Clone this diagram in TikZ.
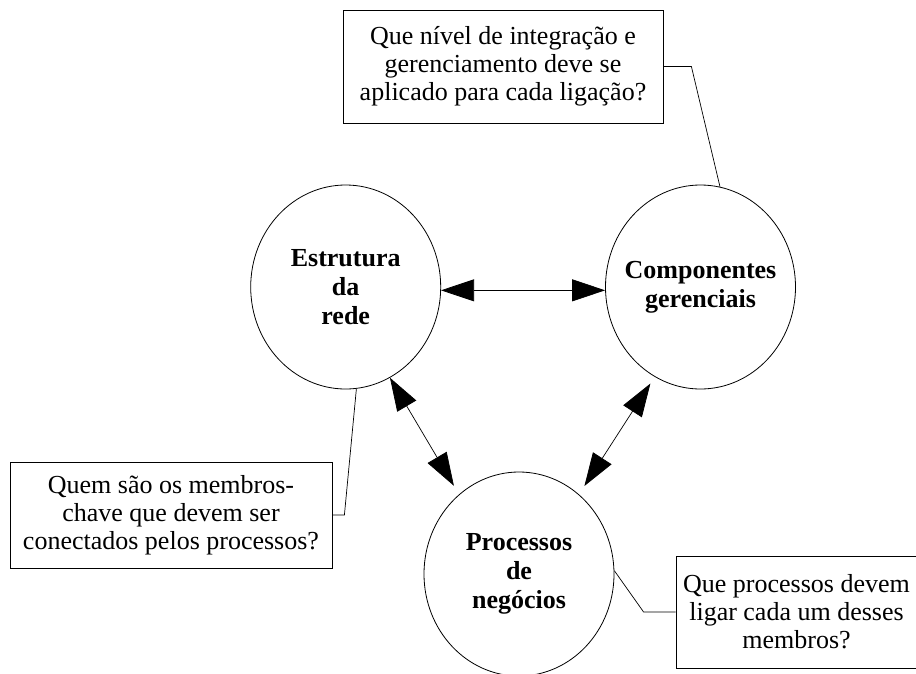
\documentclass[tikz,border=0pt]{standalone}
\usepackage{fontspec}
\setmainfont{Liberation Serif}
\usepackage{tikz}
\usetikzlibrary{arrows.meta,positioning,shapes.geometric,calc}

\tikzset{
  circ/.style={shape=ellipse,draw,line width=0.8pt,minimum width=190pt,minimum height=204pt,
    inner sep=-25pt,align=center,font=\fontsize{26}{29}\selectfont\bfseries},
  caixa/.style={shape=rectangle,draw,line width=0.8pt,inner sep=0pt,align=center,
    font=\fontsize{26}{28}\selectfont},
  seta/.style={line width=0.7pt,{Triangle[length=33pt,width=22pt]}-{Triangle[length=33pt,width=22pt]}},
  linha/.style={line width=0.7pt}
}

\begin{document}
\begin{tikzpicture}[x=1pt,y=1pt]
    \useasboundingbox (0,0) rectangle (916,-673);
    \clip (0,0) rectangle (916,-673);
     \node[circ] (est) at (345.7,-287) {Estrutura\\da\\rede};
     \node[circ] (comp) at (700.5,-287) {Componentes\\gerenciais};
     \node[circ] (proc) at (519,-574) {Processos\\de\\negócios};

     \node[caixa,minimum width=320pt,minimum height=113pt] (q1) at (503,-66.5)
          {Que nível de integração e\\gerenciamento deve se\\aplicado para cada ligação?};
     \node[caixa,minimum width=322pt,minimum height=106pt] (q2) at (171,-515)
          {Quem são os membros-\\chave que devem ser\\conectados pelos processos?};
     \node[caixa,minimum width=241pt,minimum height=112pt] (q3) at (796.5,-612)
          {Que processos devem\\ligar cada um desses\\membros?};

      \draw[seta] (est.-2) -- (comp.182);
      \draw[seta,shorten >=10pt] (est.-64) -- (proc.127);
      \draw[seta,shorten <=8pt,shorten >=10pt] (comp.-117) -- (proc.53);

      \draw[linha] (q1.east) -- ++(28,0) -- (comp.79);
      \draw[linha] (q2.east) -- ++(12,0) -- (est.-84);
      \draw[linha] (q3.west) -- ++(-32,0) -- (proc.2);
\end{tikzpicture}
\end{document}
